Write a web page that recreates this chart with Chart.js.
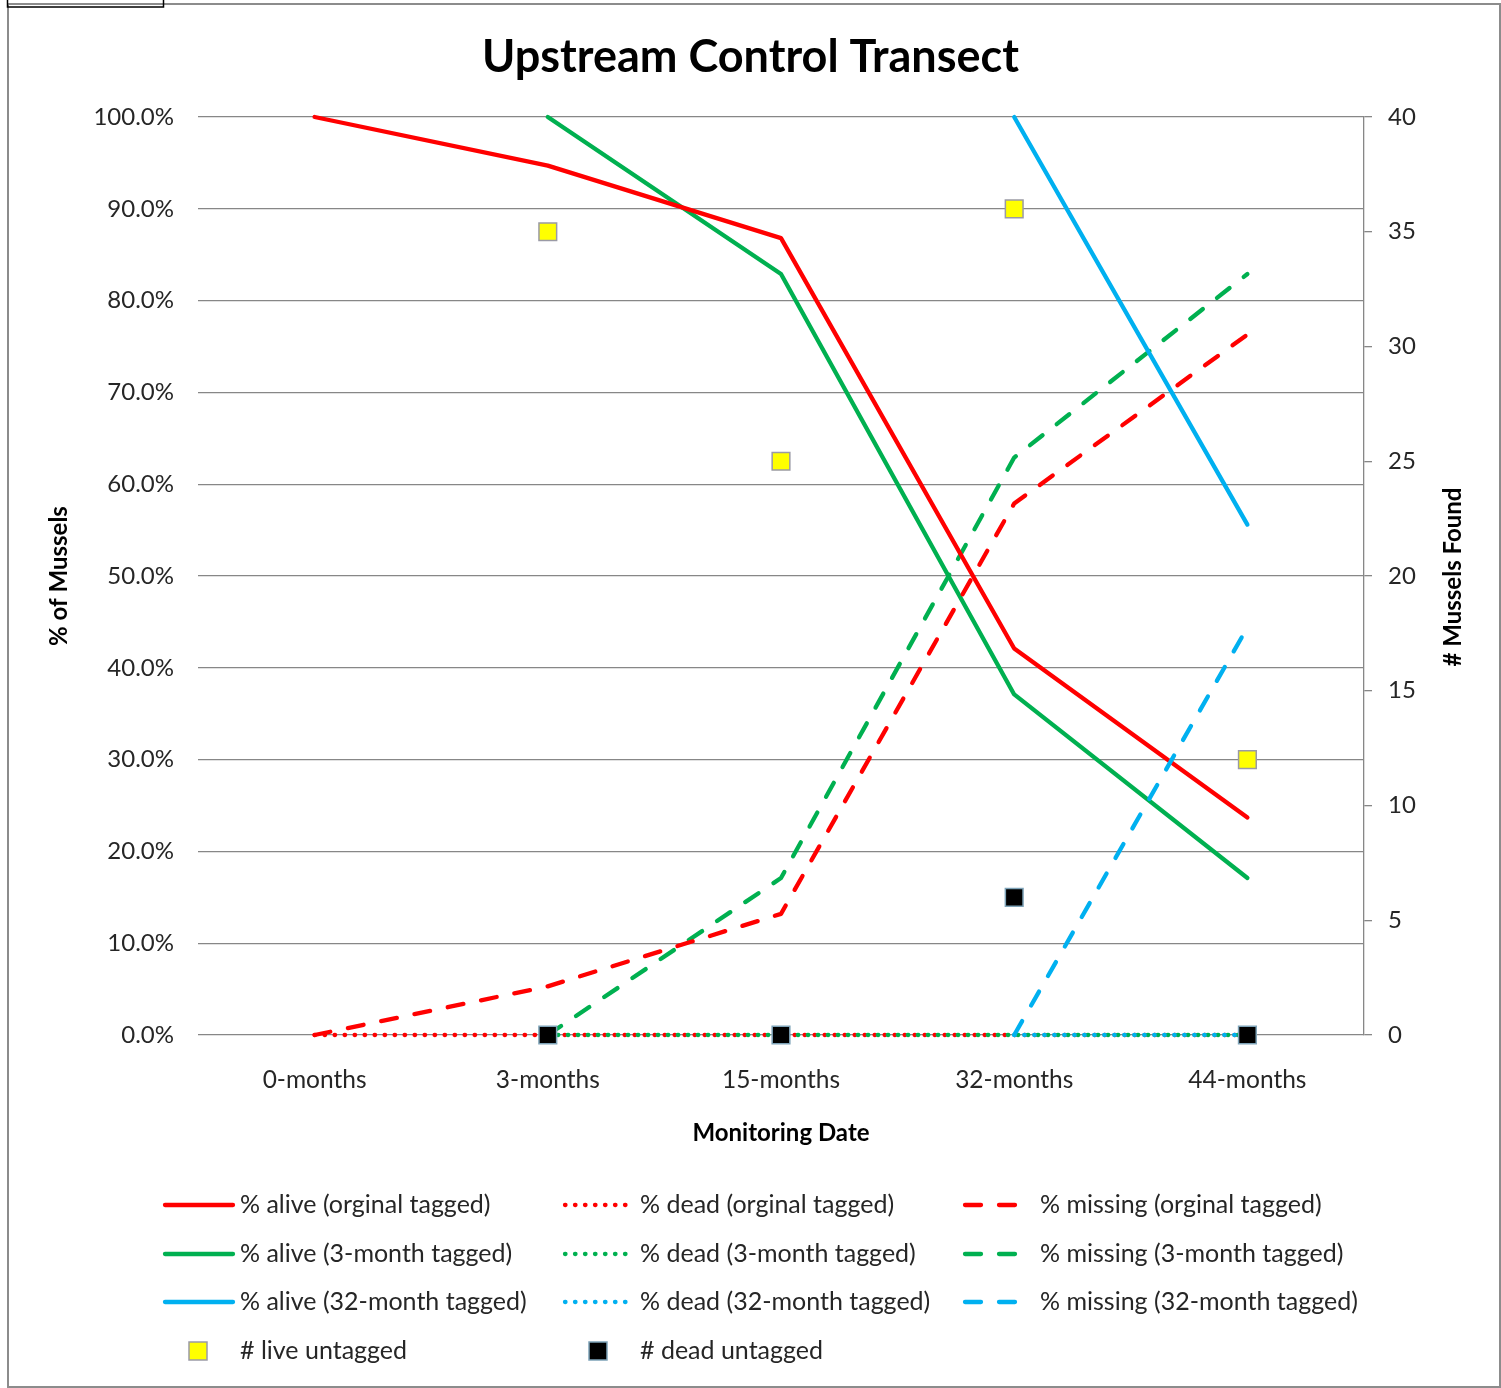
<!DOCTYPE html>
<html>
<head>
<meta charset="utf-8">
<title>Upstream Control Transect</title>
<script src="https://cdn.jsdelivr.net/npm/chart.js@4"></script>
<style>
  html, body { margin: 0; padding: 0; background: #fff; }
  canvas { display: block; }
</style>
</head>
<body>
<canvas id="transecto" width="1501" height="1388"></canvas>
<script>
// Dados do transecto de controle a montante
const meses = ['0-months', '3-months', '15-months', '32-months', '44-months'];

const vivosOriginal = [100, 94.7, 86.8, 42.1, 23.7];
const mortosOriginal = [0, 0, 0, 0, 0];
const perdidosOriginal = [0, 5.3, 13.2, 57.9, 76.3];

const vivos3m = [null, 100, 82.9, 37.1, 17.1];
const mortos3m = [null, 0, 0, 0, 0];
const perdidos3m = [null, 0, 17.1, 62.9, 82.9];

const vivos32m = [null, null, null, 100, 55.6];
const mortos32m = [null, null, null, 0, 0];
const perdidos32m = [null, null, null, 0, 44.4];

const vivosSemTag = [null, 35, 25, 36, 12];
const mortosSemTag = [null, 0, 0, 6, 0];

const ticksEsquerda = [0, 10, 20, 30, 40, 50, 60, 70, 80, 90, 100];
const ticksDireita = [0, 5, 10, 15, 20, 25, 30, 35, 40];

const VERMELHO = '#ff0000';
const VERDE = '#00b050';
const AZUL = '#00b0f0';
const CINZA = '#878787';
const TEXTO = '#262626';
const FONTE = 'Lato, "Open Sans", sans-serif';

const PONTILHADO = [0.5, 9.5];
const TRACEJADO = [16, 18];

document.addEventListener('DOMContentLoaded', function(){
    montarGrafico();
});

function linha(label, data, cor, tracos, ordem){
    return {
        label: label,
        data: data,
        borderColor: cor,
        backgroundColor: cor,
        borderWidth: 4.3,
        borderDash: tracos,
        borderCapStyle: 'round',
        borderJoinStyle: 'round',
        pointRadius: 0,
        pointHoverRadius: 0,
        tension: 0,
        spanGaps: false,
        clip: false,
        yAxisID: 'y',
        order: ordem
    };
}

function marcador(label, data, preenchimento, borda){
    return {
        label: label,
        data: data,
        showLine: false,
        pointStyle: 'rect',
        pointRadius: 12.5,
        pointHoverRadius: 12.5,
        pointBackgroundColor: preenchimento,
        pointBorderColor: borda,
        pointBorderWidth: 1.5,
        backgroundColor: preenchimento,
        borderColor: borda,
        clip: false,
        yAxisID: 'y2',
        order: 0
    };
}

// moldura externa do gráfico
const moldura = {
    id: 'moldura',
    beforeDraw(chart){
        const c = chart.ctx;
        c.save();
        c.fillStyle = '#fff';
        c.fillRect(0, 0, chart.width, chart.height);
        c.restore();
    },
    afterDraw(chart){
        const c = chart.ctx;
        c.save();
        c.strokeStyle = '#8c8c8c';
        c.lineWidth = 2;
        c.strokeRect(8, 4, 1492, 1383);
        c.strokeStyle = '#000';
        c.lineWidth = 1.5;
        c.strokeRect(7.5, -2, 156, 9);
        c.restore();
    }
};

// título do eixo secundário, lido de baixo para cima
const tituloDireita = {
    id: 'tituloDireita',
    afterDraw(chart){
        const c = chart.ctx;
        c.save();
        c.translate(1453, 577);
        c.rotate(-Math.PI / 2);
        c.font = 'bold 24px ' + FONTE;
        c.fillStyle = '#000';
        c.textAlign = 'center';
        c.textBaseline = 'middle';
        c.fillText('# Mussels Found', 0, 0);
        c.restore();
    }
};

// legenda em 3 colunas desenhada a partir dos datasets
const legenda = {
    id: 'legendaColunas',
    afterDraw(chart){
        const c = chart.ctx;
        const linhasY = [1205, 1254, 1302, 1351];
        const comprimentos = [70, 66, 56];
        c.save();
        c.font = '25px ' + FONTE;
        c.fillStyle = TEXTO;
        c.textBaseline = 'middle';
        chart.data.datasets.forEach(function(ds, i){
            const lin = Math.floor(i / 3);
            const col = i % 3;
            const x0 = 163 + 400 * col;
            const y = linhasY[lin];
            if (ds.showLine === false) {
                const s = 18;
                c.fillStyle = ds.pointBackgroundColor;
                c.fillRect(x0 + 35 - s / 2, y - s / 2, s, s);
                c.strokeStyle = ds.pointBorderColor;
                c.lineWidth = 1.5;
                c.strokeRect(x0 + 35 - s / 2, y - s / 2, s, s);
            } else {
                c.strokeStyle = ds.borderColor;
                c.lineWidth = 4.3;
                c.lineCap = 'round';
                c.setLineDash(ds.borderDash || []);
                c.beginPath();
                c.moveTo(x0 + 2, y);
                c.lineTo(x0 + comprimentos[col], y);
                c.stroke();
                c.setLineDash([]);
            }
            c.fillStyle = TEXTO;
            c.fillText(ds.label, x0 + 77, y);
        });
        c.restore();
    }
};

function montarGrafico() {
    const ctx = document.getElementById('transecto');
    new Chart(ctx, {
        type: 'line',
        data: {
            labels: meses,
            datasets: [
                linha('% alive (orginal tagged)', vivosOriginal, VERMELHO, [], 3),
                linha('% dead (orginal tagged)', mortosOriginal, VERMELHO, PONTILHADO, 6),
                linha('% missing (orginal tagged)', perdidosOriginal, VERMELHO, TRACEJADO, 3),
                linha('% alive (3-month tagged)', vivos3m, VERDE, [], 4),
                linha('% dead (3-month tagged)', mortos3m, VERDE, PONTILHADO, 5),
                linha('% missing (3-month tagged)', perdidos3m, VERDE, TRACEJADO, 4),
                linha('% alive (32-month tagged)', vivos32m, AZUL, [], 2),
                linha('% dead (32-month tagged)', mortos32m, AZUL, PONTILHADO, 4.5),
                linha('% missing (32-month tagged)', perdidos32m, AZUL, TRACEJADO, 2),
                marcador('# live untagged', vivosSemTag, '#ffff00', '#9a9aa6'),
                marcador('# dead untagged', mortosSemTag, '#000000', '#7ea3b8')
            ]
        },
        options: {
            responsive: false,
            animation: false,
            events: [],
            layout: {
                padding: { left: 0, right: 0, top: 0, bottom: 223 }
            },
            plugins: {
                legend: { display: false },
                tooltip: { enabled: false },
                title: {
                    display: true,
                    text: 'Upstream Control Transect',
                    color: '#000',
                    font: { family: FONTE, size: 45, weight: 'bold', lineHeight: 1.2 },
                    padding: { top: 30, bottom: 33 }
                }
            },
            scales: {
                x: {
                    type: 'category',
                    offset: true,
                    grid: { display: false },
                    border: { display: false },
                    ticks: {
                        color: TEXTO,
                        padding: 22,
                        maxRotation: 0,
                        font: { family: FONTE, size: 24.5, lineHeight: 1.2 }
                    },
                    title: {
                        display: true,
                        text: 'Monitoring Date',
                        color: '#000',
                        font: { family: FONTE, size: 24, weight: 'bold', lineHeight: 1.2 },
                        padding: { top: 0, bottom: 17 }
                    },
                    afterFit(escala){ escala.height = 130; }
                },
                y: {
                    position: 'left',
                    min: 0,
                    max: 100,
                    afterBuildTicks(escala){
                        escala.ticks = ticksEsquerda.map(v => ({ value: v }));
                    },
                    grid: { color: CINZA, lineWidth: 1.3, drawTicks: false },
                    border: { display: false },
                    ticks: {
                        color: TEXTO,
                        padding: 24,
                        font: { family: FONTE, size: 24 },
                        callback: v => v.toFixed(1) + '%'
                    },
                    title: {
                        display: true,
                        text: '% of Mussels',
                        color: '#000',
                        font: { family: FONTE, size: 24, weight: 'bold', lineHeight: 1.2 },
                        padding: { top: 45, bottom: 0 }
                    },
                    afterFit(escala){ escala.width = 198; }
                },
                y2: {
                    position: 'right',
                    min: 0,
                    max: 40,
                    afterBuildTicks(escala){
                        escala.ticks = ticksDireita.map(v => ({ value: v }));
                    },
                    grid: { drawOnChartArea: false, color: CINZA, lineWidth: 1.3, tickLength: 8 },
                    border: { display: true, color: CINZA, width: 1.3 },
                    ticks: {
                        color: TEXTO,
                        padding: 16,
                        font: { family: FONTE, size: 24 }
                    },
                    afterFit(escala){ escala.width = 137; }
                }
            }
        },
        plugins: [moldura, tituloDireita, legenda]
    });
}
</script>
</body>
</html>
